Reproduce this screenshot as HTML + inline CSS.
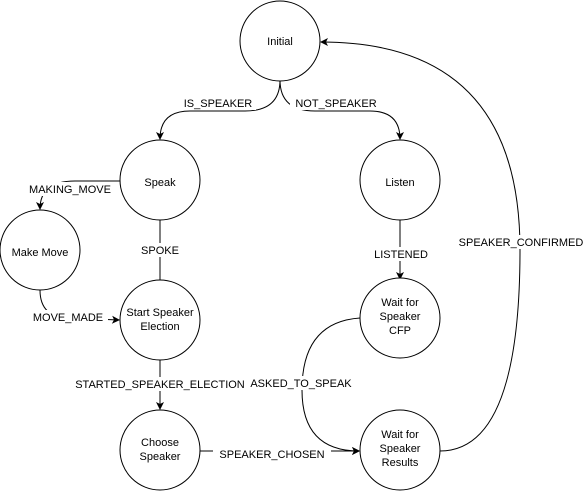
<!DOCTYPE html>
<html><head><meta charset="utf-8"><style>
html,body{margin:0;padding:0;background:#fff;}
svg text{font-family:"Liberation Sans",Arial,sans-serif;font-size:11px;fill:#000;}
</style></head><body>
<svg width="584" height="491" viewBox="0 0 584 491" xmlns="http://www.w3.org/2000/svg">
<defs><marker id="a" markerWidth="10" markerHeight="10" refX="8" refY="5" orient="auto" markerUnits="userSpaceOnUse"><path d="M1,1 L9,5 L1,9 L3,5 Z" fill="#000"/></marker></defs>
<g fill="none" stroke="#000" stroke-width="1">
<path d="M280,80 Q280,111 245,111 L190,111 Q160,111 160,139" marker-end="url(#a)"/>
<path d="M280,80 Q280,111 315,111 L370,111 Q400,111 400,139" marker-end="url(#a)"/>
<path d="M120,181 L75,181 Q40,181 40,209" marker-end="url(#a)"/>
<path d="M160,220 L160,289" marker-end="url(#a)"/>
<path d="M40,290 Q40,318 70,318 L119,320" marker-end="url(#a)"/>
<path d="M160,360 L160,409" marker-end="url(#a)"/>
<path d="M200,451 L359,451" marker-end="url(#a)"/>
<path d="M360,318 Q302,322 302,390 Q302,451 359,451" marker-end="url(#a)"/>
<path d="M400,220 L400,279" marker-end="url(#a)"/>
<path d="M440,451 Q520,451 520,250 Q520,42 321,42" marker-end="url(#a)"/>
<g fill="#fff">
<circle cx="280" cy="41" r="40"/>
<circle cx="160" cy="180" r="40"/>
<circle cx="400" cy="180" r="40"/>
<circle cx="40" cy="250" r="40"/>
<circle cx="160" cy="320" r="40"/>
<circle cx="400" cy="318" r="40"/>
<circle cx="160" cy="450" r="40"/>
<circle cx="400" cy="450" r="40"/>
</g>
</g>
<g fill="#fff">
<rect x="180" y="96" width="76" height="14"/>
<rect x="290" y="96" width="92" height="14"/>
<rect x="24" y="182" width="92" height="14"/>
<rect x="140" y="243" width="40" height="14"/>
<rect x="28" y="310" width="80" height="14"/>
<rect x="75" y="377" width="170" height="14"/>
<rect x="213" y="447" width="118" height="14"/>
<rect x="250" y="376" width="104" height="14"/>
<rect x="371" y="247" width="60" height="14"/>
<rect x="459" y="235" width="124" height="14"/>
</g>
<g text-anchor="middle">
<text x="280" y="45">Initial</text>
<text x="160" y="186">Speak</text>
<text x="400" y="186">Listen</text>
<text x="40" y="256">Make Move</text>
<text x="160" y="316">Start Speaker</text>
<text x="160" y="330">Election</text>
<text x="400" y="306">Wait for</text>
<text x="400" y="320">Speaker</text>
<text x="400" y="334">CFP</text>
<text x="160" y="446">Choose</text>
<text x="160" y="460">Speaker</text>
<text x="400" y="438">Wait for</text>
<text x="400" y="452">Speaker</text>
<text x="400" y="466">Results</text>
<text x="218" y="107">IS_SPEAKER</text>
<text x="336" y="107">NOT_SPEAKER</text>
<text x="70" y="193">MAKING_MOVE</text>
<text x="160" y="254">SPOKE</text>
<text x="68" y="321">MOVE_MADE</text>
<text x="160" y="388">STARTED_SPEAKER_ELECTION</text>
<text x="272" y="458">SPEAKER_CHOSEN</text>
<text x="301" y="387">ASKED_TO_SPEAK</text>
<text x="401" y="258">LISTENED</text>
<text x="521" y="246">SPEAKER_CONFIRMED</text>
</g>
</svg>
</body></html>
